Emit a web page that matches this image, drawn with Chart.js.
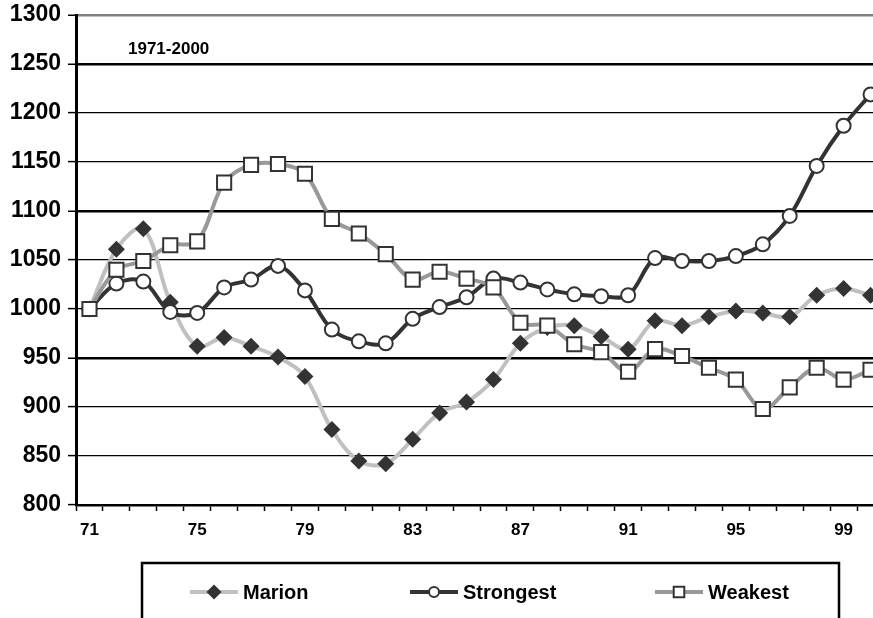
<!DOCTYPE html>
<html>
<head>
<meta charset="utf-8">
<script src="https://cdn.jsdelivr.net/npm/chart.js@4/dist/chart.umd.min.js"></script>
<style>
  html, body { margin: 0; padding: 0; overflow: hidden; background: #fff; }
  #wrap { width: 900px; height: 618px; }
</style>
</head>
<body>
<div id="wrap"><canvas id="chart" width="900" height="618"></canvas></div>
<script>
// 1971-2000, two-digit years
const years = ['71','72','73','74','75','76','77','78','79','80',
               '81','82','83','84','85','86','87','88','89','90',
               '91','92','93','94','95','96','97','98','99','00'];
const shownYears = ['71','75','79','83','87','91','95','99'];

const marion = [1000,1061,1082,1007,962,971,962,951,931,877,
                845,842,867,894,905,928,965,981,983,972,
                959,988,983,992,998,996,992,1014,1021,1014];
const strongest = [1000,1026,1028,997,996,1022,1030,1044,1019,979,
                   967,965,990,1002,1012,1031,1027,1020,1015,1013,
                   1014,1052,1049,1049,1054,1066,1095,1146,1187,1219];
const weakest = [1000,1040,1049,1065,1069,1129,1147,1148,1138,1092,
                 1077,1056,1030,1038,1031,1022,986,983,964,956,
                 936,959,952,940,928,898,920,940,928,938];

const yMin = 800, yMax = 1300, yStep = 50;
const thickLines = [1250, 1100, 950];
const periodLabel = '1971-2000';

const FONT = '"Liberation Sans", Arial, sans-serif';

const seriesStyle = {
  Marion:    { line: '#c0c0c0', fill: '#333333', border: '#333333', style: 'rectRot', r: 8.5, lr: 7.5, bw: 0 },
  Strongest: { line: '#333333', fill: '#ffffff', border: '#333333', style: 'circle',  r: 7,   lr: 5,   bw: 2 },
  Weakest:   { line: '#999999', fill: '#ffffff', border: '#333333', style: 'rect',    r: 10,  lr: 7.5, bw: 2 }
};

function makeSet(name, data) {
  const s = seriesStyle[name];
  return {
    label: name,
    data: data,
    borderColor: s.line,
    borderWidth: 4,
    tension: 0.35,
    fill: false,
    pointStyle: s.style,
    pointRadius: s.r,
    pointBackgroundColor: s.fill,
    pointBorderColor: s.border,
    pointBorderWidth: s.bw
  };
}

const boxLegend = {
  id: 'boxLegend',
  afterDraw(chart) {
    const ctx = chart.ctx;
    ctx.save();
    // period note
    ctx.fillStyle = '#000';
    ctx.font = 'bold 17px ' + FONT;
    ctx.textBaseline = 'middle';
    ctx.textAlign = 'left';
    ctx.fillText(periodLabel, 128, 49);

    // legend box
    ctx.lineWidth = 2.5;
    ctx.strokeStyle = '#000';
    ctx.strokeRect(142, 563, 697, 80);

    const items = [['Marion', 190], ['Strongest', 410], ['Weakest', 655]];
    const y = 592;
    items.forEach(([name, x0]) => {
      const s = seriesStyle[name];
      ctx.lineWidth = 4;
      ctx.strokeStyle = s.line;
      ctx.beginPath();
      ctx.moveTo(x0, y);
      ctx.lineTo(x0 + 48, y);
      ctx.stroke();
      ctx.fillStyle = s.fill;
      ctx.strokeStyle = s.border;
      ctx.lineWidth = s.bw;
      Chart.helpers.drawPoint(ctx, { pointStyle: s.style, radius: s.lr, rotation: 0, borderWidth: s.bw }, x0 + 24, y);
      ctx.fillStyle = '#000';
      ctx.font = 'bold 20px ' + FONT;
      ctx.textBaseline = 'middle';
      ctx.fillText(name, x0 + 53, y + 1);
    });
    ctx.restore();
  }
};

new Chart(document.getElementById('chart'), {
  type: 'line',
  data: {
    labels: years,
    // drawn bottom to top: Marion, Strongest, Weakest
    datasets: [makeSet('Weakest', weakest), makeSet('Strongest', strongest), makeSet('Marion', marion)]
  },
  options: {
    responsive: false,
    animation: false,
    events: [],
    layout: { padding: { top: 15, right: 16, left: 0, bottom: 0 } },
    plugins: {
      legend: { display: false },
      tooltip: { enabled: false }
    },
    scales: {
      x: {
        type: 'category',
        offset: true,
        afterFit: (s) => { s.height = 113; s.paddingLeft = 0; s.paddingRight = 0; },
        grid: {
          offset: true,
          drawOnChartArea: false,
          drawTicks: true,
          tickLength: 6,
          tickColor: '#000',
          tickWidth: 1.5
        },
        border: { display: true, color: '#000', width: 2.5 },
        ticks: {
          autoSkip: false,
          maxRotation: 0,
          padding: 9,
          color: '#000',
          font: { family: FONT, size: 17, weight: 'bold' },
          callback: function (v, i) {
            const lab = years[i];
            return shownYears.includes(lab) ? lab : '';
          }
        }
      },
      y: {
        min: yMin,
        max: yMax,
        afterFit: (s) => { s.width = 76; s.paddingTop = 0; s.paddingBottom = 0; },
        ticks: {
          stepSize: yStep,
          padding: 7,
          color: '#000',
          font: { family: FONT, size: 23, weight: 'bold' },
          callback: (v) => String(v)
        },
        grid: {
          drawTicks: true,
          tickLength: 8,
          tickColor: '#000',
          tickWidth: 1.5,
          color: (c) => c.tick && c.tick.value === yMax ? '#808080' : (c.tick && c.tick.value === yMin ? 'rgba(0,0,0,0)' : '#000'),
          lineWidth: (c) => {
            const v = c.tick ? c.tick.value : 0;
            if (v === yMax) return 2.5;
            return thickLines.includes(v) ? 2.5 : 1.2;
          }
        },
        border: { display: true, color: '#000', width: 3 }
      }
    }
  },
  plugins: [boxLegend]
});
</script>
</body>
</html>
